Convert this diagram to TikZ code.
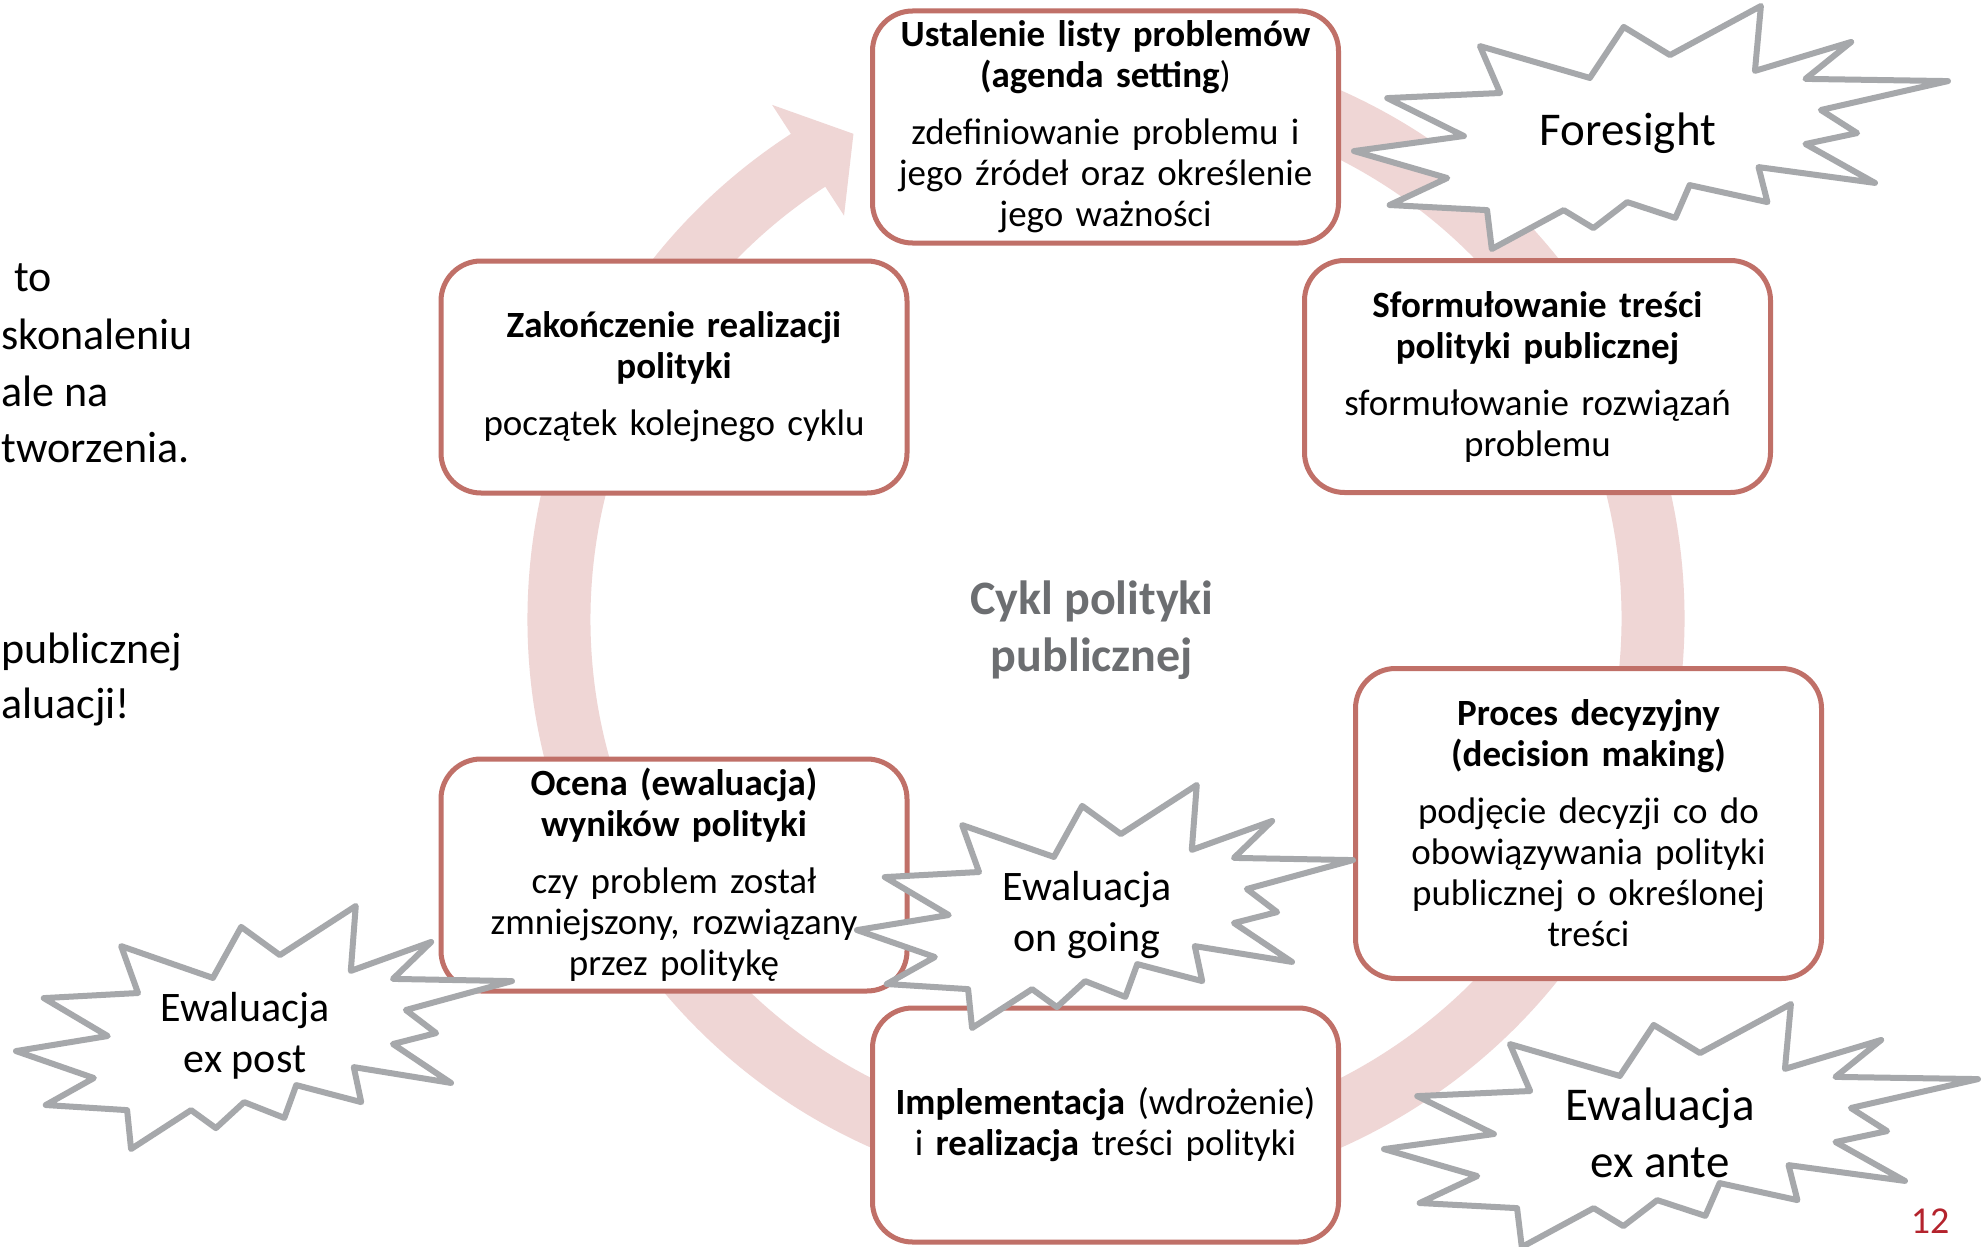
\documentclass[tikz,border=0pt]{standalone}
\usepackage{fontspec}
\setmainfont{Carlito}
\usetikzlibrary{calc}
\definecolor{boxred}{RGB}{192,112,104}
\definecolor{ringpink}{RGB}{239,214,213}
\definecolor{burstgray}{RGB}{166,168,171}
\definecolor{cyklgray}{RGB}{108,110,113}
\definecolor{pagered}{RGB}{180,35,45}
\newcommand\bxfont{\fontsize{18.5}{20.5}\selectfont}
\newcommand\bigburstfont{\fontsize{23.5}{28.5}\selectfont}
\newcommand\smallburstfont{\fontsize{21}{25.5}\selectfont}
\newcommand\sidefont{\fontsize{22}{28}\selectfont}
\tikzset{
  stage/.style={draw=boxred, line width=2.5pt, rounded corners=20pt, fill=white,
    minimum width=233pt, minimum height=116pt, align=center, text width=225pt,
    inner sep=2pt, font=\bxfont},
  burstline/.style={draw=burstgray, fill=white, line width=3pt, line join=round},
  bursttext/.style={align=center, inner sep=0pt},
  sidetext/.style={anchor=base west, inner sep=0pt, font=\sidefont},
  burstshape/.pic={
    \draw[burstline] (0.212,0.165) -- (0.397,0.296) -- (0.454,0.086) -- (0.532,0.202)
      -- (0.685,0.000) -- (0.675,0.267) -- (0.837,0.148) -- (0.760,0.300)
      -- (1.000,0.309) -- (0.786,0.428) -- (0.847,0.523) -- (0.760,0.568)
      -- (0.877,0.728) -- (0.681,0.663) -- (0.696,0.807) -- (0.565,0.737)
      -- (0.541,0.872) -- (0.460,0.807) -- (0.403,0.914) -- (0.353,0.840)
      -- (0.232,1.000) -- (0.224,0.840) -- (0.060,0.819) -- (0.157,0.708)
      -- (0.000,0.597) -- (0.185,0.535) -- (0.056,0.379) -- (0.246,0.358) -- cycle;
  }
}
\begin{document}
\begin{tikzpicture}[x=0.5pt,y=-0.5pt]
\useasboundingbox (0,0) rectangle (1982,1247);
\fill[white] (0,0) rectangle (1982,1247);

% cycle ring with arrow
\coordinate (rc) at (1106,619);
\draw[ringpink, line width=31.5pt] ($(rc)+(-122.5:547)$) arc[start angle=-122.5, end angle=-450, radius=547];
\fill[ringpink] ($(rc)+(-123:613)$) -- ($(rc)+(-117.5:547)$) -- ($(rc)+(-123:481)$) -- cycle;

\node[font=\fontsize{24}{28.5}\selectfont\bfseries, text=cyklgray, align=center] (cykl) at (1092,630) {Cykl polityki\\publicznej};

% stages
\node[stage] (agenda) at (1105.5,127) {{\bfseries Ustalenie listy problemów\\(agenda setting})\\[8pt]zdefiniowanie problemu i\\jego źródeł oraz określenie\\jego ważności};
\node[stage] (form) at (1537.5,376.5) {{\bfseries Sformułowanie treści\\polityki publicznej}\\[8pt]sformułowanie rozwiązań\\problemu};
\node[stage, minimum height=155pt] (decision) at (1588.5,823.5) {{\bfseries Proces decyzyjny\\(decision making)}\\[8pt]podjęcie decyzji co do\\obowiązywania polityki\\publicznej o określonej\\treści};
\node[stage, minimum height=117pt] (impl) at (1105.5,1125) {\textbf{Implementacja} (wdrożenie)\\i \textbf{realizacja} treści polityki};
\node[stage] (ocena) at (674,875) {{\bfseries Ocena (ewaluacja)\\wyników polityki}\\[8pt]czy problem został\\zmniejszony, rozwiązany\\przez politykę};
\node[stage] (koniec) at (674,377) {{\bfseries Zakończenie realizacji\\polityki}\\[8pt]początek kolejnego cyklu};

% bursts
\begin{scope}[shift={(1354,6)}, xscale=594, yscale=243]
  \pic[transform shape] {burstshape};
\end{scope}
\begin{scope}[shift={(1384,1004)}, xscale=594, yscale=243]
  \pic[transform shape] {burstshape};
\end{scope}
\begin{scope}[shift={(857,785)}, xscale=496, yscale=243]
  \pic[transform shape] {burstshape};
\end{scope}
\begin{scope}[shift={(16,906)}, xscale=496, yscale=243]
  \pic[transform shape] {burstshape};
\end{scope}
\node[bursttext, font=\bigburstfont] (foresight) at (1628,133) {Foresight};
\node[bursttext, font=\bigburstfont] (exante) at (1660,1133) {Ewaluacja\\ex ante};
\node[bursttext, font=\smallburstfont] (ongoing) at (1087,915) {Ewaluacja\\on going};
\node[bursttext, font=\smallburstfont] (expost) at (245,1036) {Ewaluacja\\ex post};

% side text (cut at the slide edge)
\node[sidetext] (s1) at (14,291) {to};
\node[sidetext] (s2) at (1,349) {skonaleniu};
\node[sidetext] (s3) at (1,406) {ale na};
\node[sidetext] (s4) at (1,462) {tworzenia.};
\node[sidetext] (s5) at (1,663) {publicznej};
\node[sidetext] (s6) at (1,718) {aluacji!};

\node[text=pagered, font=\fontsize{19}{22}\selectfont] (page) at (1930,1221) {12};
\end{tikzpicture}
\end{document}
